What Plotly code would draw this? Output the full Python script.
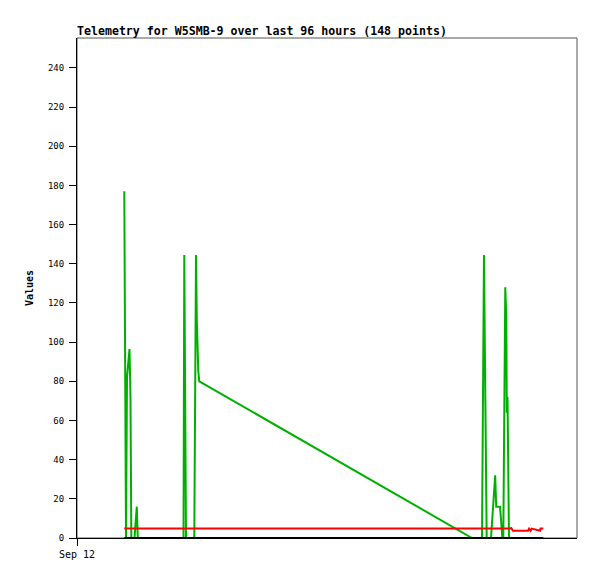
import pandas as pd
import plotly.graph_objects as go

TITLE = "Telemetry for W5SMB-9 over last 96 hours (148 points)"
START = pd.Timestamp("2000-09-12 00:00")
END = START + pd.Timedelta(hours=96)

# hours after Sep 12 00:00, value
green_hours = [
    9.08, 9.27, 9.41, 9.6, 9.79, 9.98, 10.08, 10.27, 10.43, 11.04, 11.27, 11.48, 11.67,
    20.45, 20.6, 20.79, 20.93,
    22.52, 22.71, 22.85, 23.0, 23.1, 23.19, 23.29, 23.48,
    75.84,
    77.76, 77.95, 78.14, 78.34, 78.47, 78.66,
    79.49, 79.68, 79.87, 80.1, 80.29, 80.49, 81.22, 81.45, 81.66,
    81.85, 82.04, 82.23, 82.43, 82.52, 82.66, 82.75, 82.94,
]
green_values = [
    177, 96.5, 0, 82, 88, 93, 96.5, 72, 0, 0, 8, 16, 0,
    0, 144.5, 72, 0,
    0, 72, 144.5, 112, 96, 104, 85, 80,
    0,
    0, 72, 144.5, 88, 40, 0,
    0, 8, 16, 24, 32, 16, 16, 8, 0,
    0, 96.5, 128, 112, 64, 72, 24.5, 0,
]

red_hours = [9.08, 83.27, 83.33, 83.71, 86.6, 86.8, 87.1, 87.3, 88.9, 89.0, 89.53]
red_values = [4.8, 4.8, 5.3, 3.7, 3.7, 4.8, 3.7, 4.8, 3.7, 4.8, 4.8]

black_hours = [9.08, 89.53]
black_values = [0, 0]

Y_TICKS = list(range(0, 241, 20))

# page body has an 8px margin, so the figure box is shifted by that much
PAGE_PAD = 8
W, H = 597, 579


def _t(hours):
    return [START + pd.Timedelta(hours=h) for h in hours]


fig = go.Figure()
fig.add_trace(go.Scatter(
    x=_t(green_hours), y=green_values, mode="lines",
    line=dict(color="#00b000", width=2), showlegend=False,
))
fig.add_trace(go.Scatter(
    x=_t(red_hours), y=red_values, mode="lines",
    line=dict(color="#ff0000", width=2), showlegend=False,
))
fig.add_trace(go.Scatter(
    x=_t(black_hours), y=black_values, mode="lines",
    line=dict(color="#000000", width=2), showlegend=False,
))

mono = "DejaVu Sans Mono, monospace"
fig.add_shape(type="rect", xref="paper", yref="paper", x0=0, x1=1, y0=0, y1=1,
              line=dict(color="#555555", width=1), layer="below")

fig.update_layout(
    width=W, height=H,
    margin=dict(l=77 - PAGE_PAD, r=W - 577 + PAGE_PAD, t=38 - PAGE_PAD, b=H - 538 + PAGE_PAD),
    paper_bgcolor="white", plot_bgcolor="white",
    font=dict(family=mono, size=10, color="black"),
    title=dict(text=f"<b>{TITLE}</b>", x=(77 - PAGE_PAD) / W, xanchor="left",
               y=1 - (31 - PAGE_PAD) / H, yanchor="middle", font=dict(family=mono, size=11.6)),
    xaxis=dict(
        type="date", range=[START, END], showgrid=False, zeroline=False,
        tickmode="array", tickvals=[START], ticktext=["Sep 12"],
        ticks="outside", ticklen=7, tickcolor="black",
        showline=True, linecolor="black", linewidth=1,
        tickfont=dict(family=mono, size=10),
    ),
    yaxis=dict(
        range=[0, 255.3], showgrid=False, zeroline=False,
        tickmode="array", tickvals=Y_TICKS,
        ticks="outside", ticklen=7, tickcolor="black",
        showline=True, linecolor="black", linewidth=1,
        tickfont=dict(family=mono, size=9), ticklabelstandoff=3,
        title=dict(text="<b>Values</b>", font=dict(family=mono, size=10), standoff=12),
    ),
)

fig.write_html("out.html")
